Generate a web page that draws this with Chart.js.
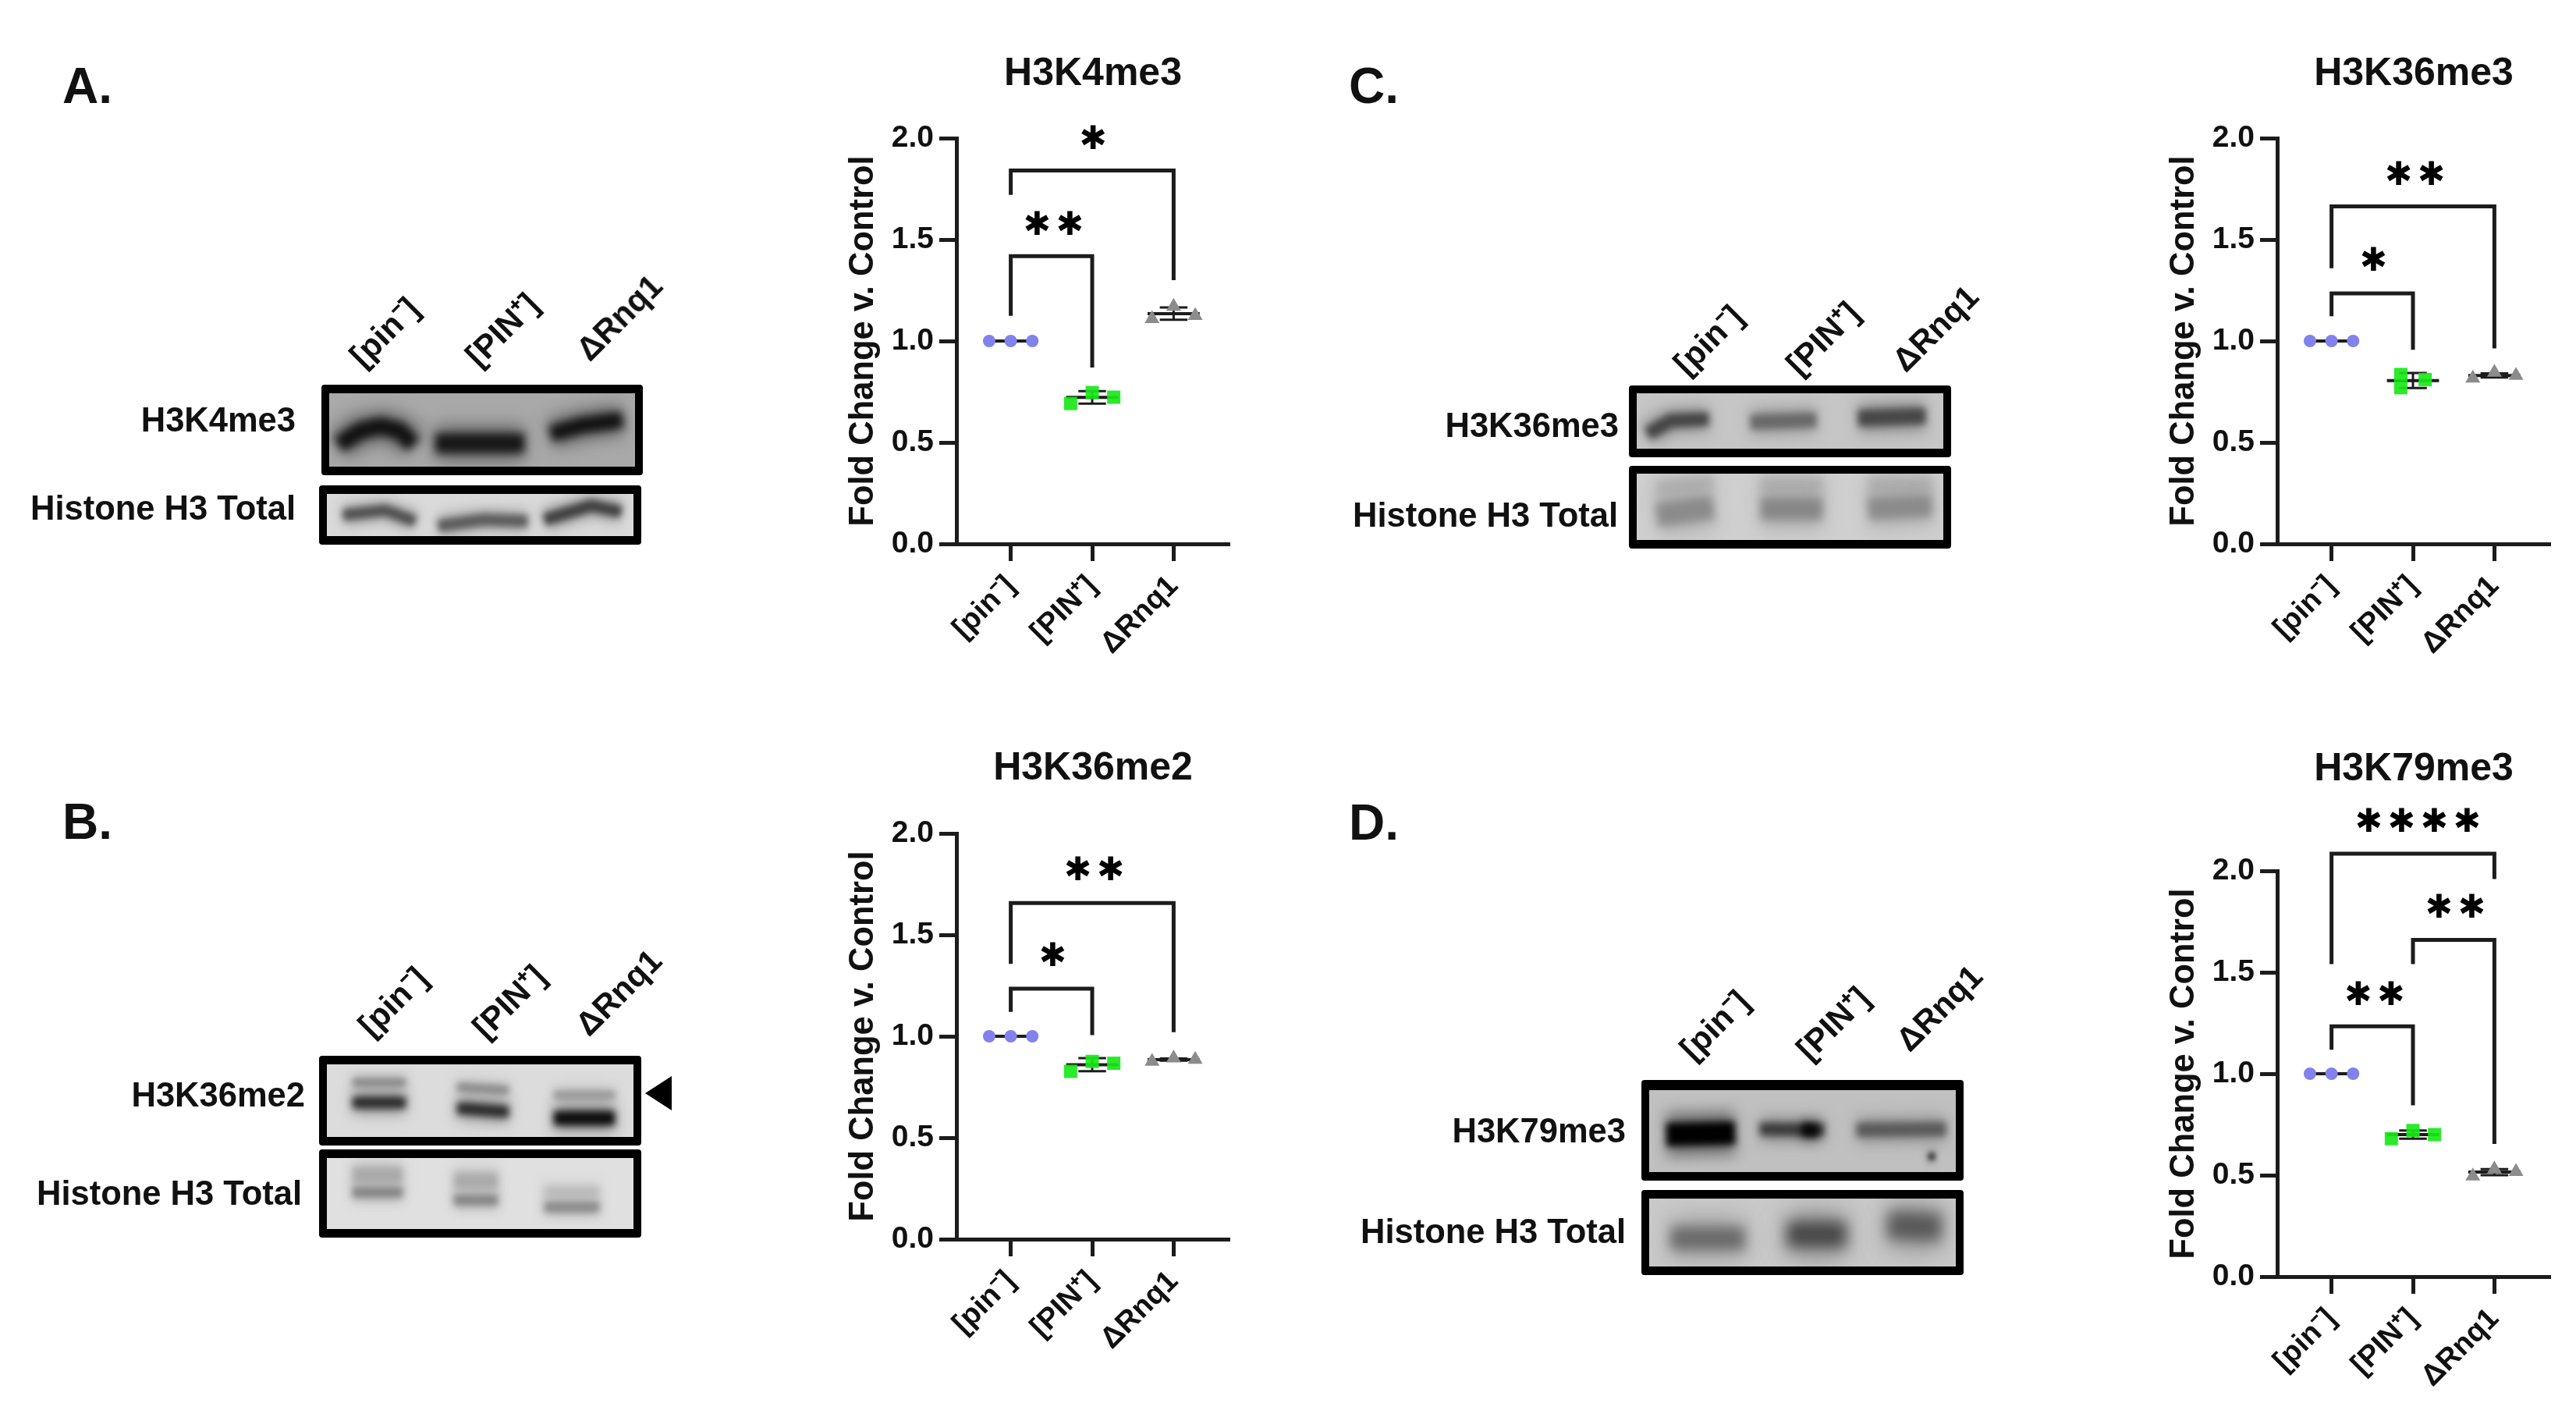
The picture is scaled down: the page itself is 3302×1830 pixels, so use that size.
<!DOCTYPE html>
<html lang="en">
<head>
<meta charset="UTF-8">
<title>Histone methylation blots</title>
<script src="https://cdn.jsdelivr.net/npm/chart.js"></script>
<style>
  html, body { margin: 0; padding: 0; background: #fff; }
  body { width: 3302px; height: 1830px; position: relative; overflow: hidden; font-family: "Liberation Sans", Arial, sans-serif; color: #111; }
  canvas { position: absolute; }
  .lbl { position: absolute; font-weight: bold; white-space: nowrap; }
</style>
</head>
<body>
<canvas id="blots" width="3302" height="1830" style="left:0;top:0"></canvas>
<script>
// groups on the x axis
const categories = ['[pin⁻]', '[PIN⁺]', 'ΔRnq1'];
const yTicks = [0, 0.5, 1, 1.5, 2];
const yAxisLabel = 'Fold Change v. Control';
const totalLabel = 'Histone H3 Total';

// H3K4me3
const pinA = [1, 1, 1];
const psiA = [0.692, 0.746, 0.723];
const rnqA = [1.11, 1.17, 1.125];
const meansA = [1, 0.722, 1.135];
const errsA = [0, 0.031, 0.03];
const bracketsA = [[0, 1.72, 1.84, 2, 1.30], [0, 1.124, 1.418, 1, 0.869]];
const starsA = [[1.01, 1.99, 1], [0.525, 1.565, 2]];

// H3K36me2
const pinB = [1, 1, 1];
const psiB = [0.827, 0.876, 0.867];
const rnqB = [0.876, 0.892, 0.886];
const meansB = [1, 0.86, 0.885];
const errsB = [0, 0.032, 0.005];
const bracketsB = [[0, 1.357, 1.657, 2, 1.02], [0, 1.12, 1.235, 1, 1.006]];
const starsB = [[1.024, 1.81, 2], [0.514, 1.39, 1]];

// H3K36me3
const pinC = [1, 1, 1];
const psiC = [0.835, 0.77, 0.81];
const rnqC = [0.816, 0.845, 0.83];
const meansC = [1, 0.805, 0.83];
const errsC = [0, 0.037, 0.01];
const bracketsC = [[0, 1.359, 1.663, 2, 0.963], [0, 1.122, 1.235, 1, 0.957]];
const starsC = [[1.024, 1.81, 2], [0.514, 1.388, 1]];

// H3K79me3
const pinD = [1, 1, 1];
const psiD = [0.68, 0.72, 0.70];
const rnqD = [0.495, 0.53, 0.517];
const meansD = [1, 0.70, 0.515];
const errsD = [0, 0.02, 0.015];
const bracketsD = [[0, 1.54, 2.085, 2, 1.96], [1, 1.54, 1.66, 2, 0.654], [0, 1.118, 1.234, 1, 0.844]];
const starsD = [[1.06, 2.236, 4], [1.52, 1.81, 2], [0.529, 1.38, 2]];

// sideways spread of the replicates inside a group
const spread = [-0.265, 0, 0.265];
const spreadPsiC = [-0.15, -0.15, 0.15];

const FONT = '"Liberation Sans", Arial, sans-serif';
const INK = '#1c1c1c';

function starPlugin(stars) {
  return {
    id: 'sigStars',
    afterDatasetsDraw(chart) {
      const c = chart.ctx, sx = chart.scales.x, sy = chart.scales.y;
      c.save();
      c.font = 'bold 42px "DejaVu Sans"';
      c.fillStyle = '#000';
      c.textAlign = 'center';
      c.textBaseline = 'middle';
      stars.forEach(([x, y, n]) => {
        const mid = sx.getPixelForValue(x);
        for (let i = 0; i < n; i++) {
          c.fillText('✱', mid + (i - (n - 1) / 2) * 42, sy.getPixelForValue(y));
        }
      });
      c.restore();
    }
  };
}

function lineSet(points, width) {
  return { data: points, showLine: true, pointRadius: 0, borderColor: INK, borderWidth: width, tension: 0, clip: false, borderJoinStyle: 'miter', borderCapStyle: 'butt' };
}

function pointSet(i, values, offsets, style, color, radius) {
  return {
    data: values.map((v, k) => ({ x: i + offsets[k], y: v })),
    showLine: false, pointStyle: style, pointRadius: radius, pointHoverRadius: radius,
    pointBackgroundColor: color, pointBorderWidth: 0, clip: false
  };
}

function makePanel(p) {
  const left = p.axisX - 150, top = p.titleY - 29;
  const cv = document.createElement('canvas');
  cv.width = 650;
  cv.height = p.plotTop - top + 520 + 150;
  cv.style.left = left + 'px';
  cv.style.top = top + 'px';
  document.body.appendChild(cv);

  const sets = [
    pointSet(0, p.groups[0], spread, 'circle', 'rgb(130,130,236)', 8),
    pointSet(1, p.groups[1], p.psiSpread || spread, 'rect', 'rgba(24,232,24,0.92)', 12),
    pointSet(2, p.groups[2], spread, 'triangle', 'rgb(140,140,140)', 11)
  ];
  p.means.forEach((m, i) => {
    sets.push(lineSet([{ x: i - 0.32, y: m }, { x: i + 0.32, y: m }], 4));
    const e = p.errs[i];
    if (e > 0) sets.push(lineSet([
      { x: i - 0.17, y: m + e }, { x: i + 0.17, y: m + e }, { x: i, y: m + e },
      { x: i, y: m - e }, { x: i - 0.17, y: m - e }, { x: i + 0.17, y: m - e }
    ], 3));
  });
  p.brackets.forEach(b => {
    sets.push(lineSet([{ x: b[0], y: b[1] }, { x: b[0], y: b[2] }, { x: b[3], y: b[2] }, { x: b[3], y: b[4] }], 5));
  });

  new Chart(cv, {
    type: 'scatter',
    data: { datasets: sets },
    plugins: [starPlugin(p.stars)],
    options: {
      responsive: false,
      animation: false,
      devicePixelRatio: 1,
      layout: { padding: { left: 0, right: 150, top: 0, bottom: 0 } },
      plugins: {
        legend: { display: false },
        tooltip: { enabled: false },
        title: {
          display: true, text: p.title, color: '#111', fullSize: false,
          font: { family: FONT, size: 50, weight: 'bold', lineHeight: 1.2 },
          padding: { top: 0, bottom: p.plotTop - top - 60 }
        }
      },
      scales: {
        x: {
          type: 'linear', min: -0.667, max: 2.686,
          afterBuildTicks: s => { s.ticks = categories.map((c, i) => ({ value: i })); },
          afterFit: s => { s.height = 150; },
          border: { color: INK, width: 5 },
          grid: { drawOnChartArea: false, tickLength: 22, tickWidth: 5, tickColor: INK },
          ticks: {
            autoSkip: false, minRotation: 45, maxRotation: 45, padding: 10,
            color: '#111', font: { family: FONT, size: 38, weight: 'bold' },
            callback: v => categories[v]
          }
        },
        y: {
          min: 0, max: 2,
          afterBuildTicks: s => { s.ticks = yTicks.map(v => ({ value: v })); },
          afterFit: s => { s.width = 150; },
          border: { color: INK, width: 5 },
          grid: { drawOnChartArea: false, tickLength: 22, tickWidth: 5, tickColor: INK },
          title: {
            display: true, text: yAxisLabel, color: '#111',
            font: { family: FONT, size: 43.5, weight: 'bold', lineHeight: 1.2 },
            padding: { top: 5, bottom: 0 }
          },
          ticks: {
            padding: 7, color: '#111', font: { family: FONT, size: 39, weight: 'bold' },
            callback: v => v.toFixed(1)
          }
        }
      }
    }
  });
}

makePanel({ axisX: 1226, plotTop: 177, titleY: 94, title: 'H3K4me3', groups: [pinA, psiA, rnqA], means: meansA, errs: errsA, brackets: bracketsA, stars: starsA });
makePanel({ axisX: 1226, plotTop: 1068, titleY: 984, title: 'H3K36me2', groups: [pinB, psiB, rnqB], means: meansB, errs: errsB, brackets: bracketsB, stars: starsB });
makePanel({ axisX: 2919, plotTop: 177, titleY: 94, title: 'H3K36me3', groups: [pinC, psiC, rnqC], psiSpread: spreadPsiC, means: meansC, errs: errsC, brackets: bracketsC, stars: starsC });
makePanel({ axisX: 2919, plotTop: 1116, titleY: 985, title: 'H3K79me3', groups: [pinD, psiD, rnqD], means: meansD, errs: errsD, brackets: bracketsD, stars: starsD });

// western blot crops, painted roughly
const bc = document.getElementById('blots').getContext('2d');
function strokeBand(pts, width, color, blur, alpha) {
  bc.filter = 'blur(' + blur + 'px)';
  bc.globalAlpha = alpha;
  bc.strokeStyle = color;
  bc.lineWidth = width;
  bc.beginPath();
  pts.forEach((pt, i) => i ? bc.lineTo(pt[0], pt[1]) : bc.moveTo(pt[0], pt[1]));
  bc.stroke();
}
function blot(x0, y0, x1, y1, ix0, iy0, ix1, iy1, bg, bands) {
  bc.fillStyle = '#000';
  bc.beginPath();
  bc.roundRect(x0, y0, x1 - x0, y1 - y0, 4);
  bc.fill();
  bc.save();
  bc.beginPath();
  bc.rect(ix0, iy0, ix1 - ix0, iy1 - iy0);
  bc.clip();
  bc.fillStyle = bg;
  bc.fillRect(ix0, iy0, ix1 - ix0, iy1 - iy0);
  bc.lineCap = 'butt';
  bc.lineJoin = 'round';
  bands.forEach(b => {
    const blur = b[3] || 5;
    strokeBand(b[0], b[1] * 1.9, b[2], blur * 1.8, 0.4);
    strokeBand(b[0], b[1], b[2], blur, 1);
  });
  bc.restore();
}
blot(412, 493, 824, 609, 422, 504, 814, 598, '#a9a9a9', [
  [[[434, 570], [462, 552], [488, 546], [512, 552], [530, 570]], 22, '#111', 6],
  [[[558, 568], [672, 568]], 25, '#161616', 6],
  [[[706, 556], [746, 545], [798, 538]], 21, '#111', 6]
]);
blot(409, 622, 822, 698, 419, 633, 812, 687, '#dadada', [
  [[[440, 660], [494, 654], [532, 668]], 14, '#505050', 4],
  [[[562, 674], [620, 666], [676, 668]], 15, '#5c5c5c', 4],
  [[[698, 666], [758, 648], [796, 656]], 15, '#404040', 4]
]);
blot(409, 1353, 822, 1468, 419, 1364, 812, 1457, '#dcdcdc', [
  [[[452, 1387], [520, 1387]], 10, '#8a8a8a', 4],
  [[[452, 1413], [520, 1413]], 15, '#2a2a2a', 5],
  [[[586, 1393], [652, 1397]], 10, '#8a8a8a', 4],
  [[[586, 1420], [652, 1425]], 15, '#2a2a2a', 5],
  [[[710, 1403], [788, 1403]], 10, '#999', 4],
  [[[710, 1433], [788, 1433]], 18, '#0c0c0c', 5]
]);
blot(409, 1473, 822, 1586, 419, 1484, 812, 1575, '#e0e0e0', [
  [[[452, 1505], [516, 1505]], 20, '#ababab', 5],
  [[[452, 1528], [516, 1528]], 13, '#858585', 4],
  [[[582, 1513], [638, 1513]], 20, '#ababab', 5],
  [[[582, 1538], [638, 1538]], 13, '#858585', 4],
  [[[698, 1527], [768, 1527]], 14, '#bdbdbd', 5],
  [[[698, 1547], [768, 1547]], 13, '#8a8a8a', 4]
]);
blot(2088, 494, 2501, 586, 2098, 504, 2491, 575, '#c6c6c6', [
  [[[2112, 556], [2142, 539], [2190, 537]], 17, '#444', 5],
  [[[2244, 541], [2328, 538]], 19, '#686868', 5],
  [[[2382, 536], [2468, 533]], 21, '#474747', 5]
]);
blot(2088, 597, 2501, 703, 2098, 607, 2491, 692, '#cfcfcf', [
  [[[2124, 625], [2196, 618]], 18, '#b2b2b2', 6],
  [[[2124, 660], [2196, 650]], 30, '#8b8b8b', 6],
  [[[2257, 621], [2336, 621]], 20, '#b2b2b2', 6],
  [[[2257, 652], [2336, 652]], 28, '#878787', 6],
  [[[2395, 621], [2476, 621]], 20, '#b2b2b2', 6],
  [[[2395, 652], [2476, 648]], 28, '#8b8b8b', 6]
]);
blot(2104, 1384, 2517, 1513, 2114, 1397, 2507, 1502, '#c0c0c0', [
  [[[2136, 1454], [2224, 1452]], 30, '#000', 5],
  [[[2256, 1447], [2338, 1448]], 16, '#3a3a3a', 5],
  [[[2310, 1448], [2330, 1449]], 14, '#050505', 4],
  [[[2380, 1448], [2494, 1447]], 18, '#5a5a5a', 5],
  [[[2472, 1482], [2480, 1482]], 9, '#333', 3]
]);
blot(2104, 1525, 2517, 1634, 2114, 1536, 2507, 1623, '#c9c9c9', [
  [[[2142, 1587], [2236, 1587]], 28, '#6a6a6a', 8],
  [[[2291, 1582], [2366, 1582]], 32, '#474747', 9],
  [[[2420, 1570], [2488, 1573]], 34, '#585858', 9]
]);
// arrowhead next to the H3K36me2 blot
bc.fillStyle = '#000';
bc.beginPath();
bc.moveTo(827, 1401);
bc.lineTo(861, 1379);
bc.lineTo(861, 1423);
bc.fill();

function label(text, css) {
  const d = document.createElement('div');
  d.className = 'lbl';
  d.textContent = text;
  d.style.cssText += css;
  document.body.appendChild(d);
}
function rowLabel(text, rightX, midY) {
  label(text, 'right:' + (3302 - rightX) + 'px;top:' + midY + 'px;font-size:43.5px;transform:translateY(-50%);');
}
function laneLabel(text, cx, cy) {
  label(text, 'left:' + cx + 'px;top:' + cy + 'px;font-size:42px;transform:translate(-50%,-50%) rotate(-45deg);');
}
function letter(text, x, midY) {
  label(text, 'left:' + x + 'px;top:' + midY + 'px;font-size:64px;transform:translateY(-50%);');
}

letter('A.', 80, 110); letter('B.', 80, 1053); letter('C.', 1729, 110); letter('D.', 1729, 1054);

rowLabel('H3K4me3', 379, 538); rowLabel(totalLabel, 379, 651);
rowLabel('H3K36me2', 391, 1403); rowLabel(totalLabel, 387, 1529);
rowLabel('H3K36me3', 2075, 545); rowLabel(totalLabel, 2074, 660);
rowLabel('H3K79me3', 2084, 1449); rowLabel(totalLabel, 2084, 1578);

[[[491, 424], [642, 421], [794, 407]],
 [[502, 1282], [651, 1282], [793, 1272]],
 [[2188, 434], [2335, 432], [2481, 421]],
 [[2196, 1312], [2348, 1310], [2486, 1292]]].forEach(row => {
  row.forEach((c, i) => laneLabel(categories[i], c[0], c[1]));
});
</script>
</body>
</html>
